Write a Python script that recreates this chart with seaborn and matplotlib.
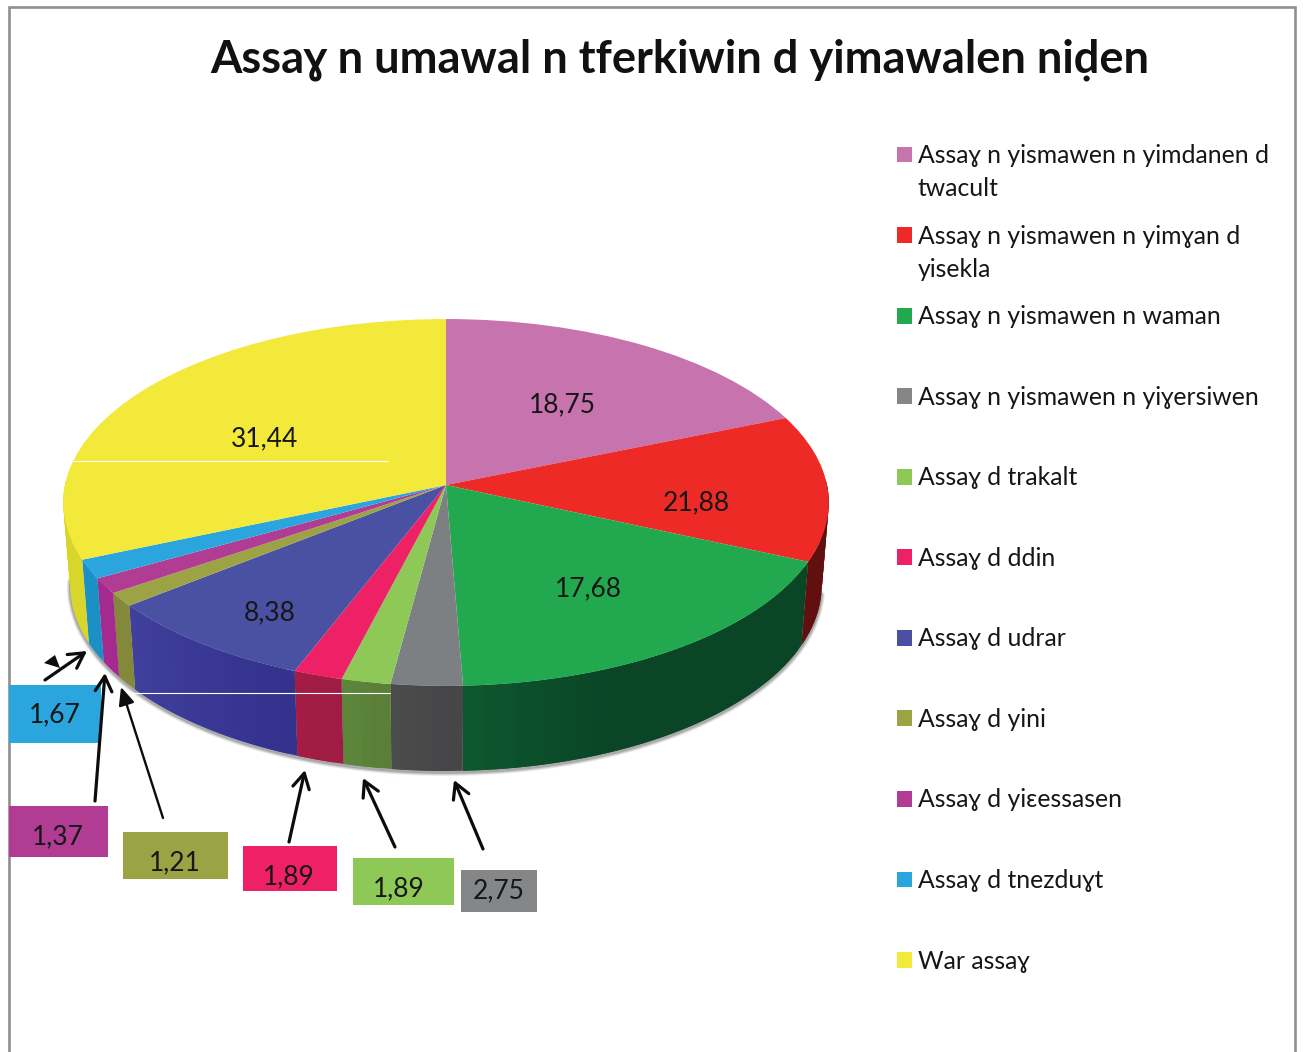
import numpy as np
import matplotlib
matplotlib.use("Agg")
import matplotlib.pyplot as plt
from matplotlib.patches import Patch, Rectangle
from matplotlib.transforms import Transform
import seaborn as sns

# ---- data ----
TITLE = "Assaɣ n umawal n tferkiwin d yimawalen niḍen"
categories = [
    "Assaɣ n yismawen n yimdanen d\ntwacult",
    "Assaɣ n yismawen n yimɣan d\nyisekla",
    "Assaɣ n yismawen n waman",
    "Assaɣ n yismawen n yiɣersiwen",
    "Assaɣ d trakalt",
    "Assaɣ d ddin",
    "Assaɣ d udrar",
    "Assaɣ d yini",
    "Assaɣ d yiɛessasen",
    "Assaɣ d tnezduɣt",
    "War assaɣ",
]
# sizes of the slices as drawn
slice_values = [18.75, 12.88, 17.68, 2.75, 1.89, 1.89, 8.38, 1.21, 1.37, 1.67, 31.44]
# numbers printed on the chart
value_labels = ["18,75", "21,88", "17,68", "2,75", "1,89", "1,89", "8,38", "1,21", "1,37", "1,67", "31,44"]
top_colors = ["#c673ae", "#ee2a27", "#22a950", "#7c8082", "#8ec857", "#ee2066",
              "#4a50a2", "#9ca345", "#b03c94", "#2ba5de", "#f3e93b"]
key_colors = ["#c673ae", "#ee2a27", "#22a950", "#848688", "#8ec857", "#ee2066",
              "#4b4fa0", "#9ca345", "#b03c94", "#2ba5de", "#f3e93b"]
wall_start = ["#620f10", "#620f10", "#0a4526", "#464648", "#5a8038", "#a01c44",
              "#33338e", "#84883a", "#a42a90", "#1a90c4", "#d8d62a"]
wall_end = ["#620f10", "#620f10", "#0e5a30", "#4c4e4c", "#5e8a3c", "#a61c44",
            "#41409e", "#84883a", "#a42a90", "#1a90c4", "#d8d62a"]

sns.set_theme(style="white")
FONTS = ["Lato", "Noto Sans", "DejaVu Sans"]
plt.rcParams["font.family"] = FONTS
TEXT = "#161616"

fig = plt.figure(figsize=(13.03, 10.52), dpi=100, facecolor="white")
ax = fig.add_axes([0, 0, 1, 1])


# perspective view of the unit disc, in pixels of the page
class DiscView(Transform):
    input_dims = 2
    output_dims = 2
    A, B, C = 181.8, 0.0954, 381.0
    CX, CY = 446.0, 485.0

    def transform_non_affine(self, values):
        v = np.asarray(values, float)
        w = 1 + self.B * v[:, 1]
        return np.column_stack((self.CX + self.C * v[:, 0] / w, self.CY - self.A * v[:, 1] / w))


view = DiscView()
palette = sns.color_palette(top_colors)
wedges, _ = ax.pie(slice_values, colors=palette, startangle=90, counterclock=False,
                   radius=1.0, wedgeprops=dict(linewidth=0))
ax.set_aspect("auto")
ax.set_xlim(0, 1303)
ax.set_ylim(1052, 0)
ax.set_axis_off()
for w in wedges:
    w.set_transform(view + ax.transData)
    w.set_zorder(3)


def rims(theta_deg):
    t = np.radians(theta_deg)
    top = view.transform_non_affine(np.column_stack((np.sin(t), np.cos(t))))
    bx = view.CX + (top[:, 0] - view.CX) * 376 / 383
    by = 585 + (top[:, 1] - 502.5) * 186 / 183.5
    return top, np.column_stack((bx, by))


def mix(c0, c1, f):
    a, b = np.array(matplotlib.colors.to_rgb(c0)), np.array(matplotlib.colors.to_rgb(c1))
    return tuple(a + (b - a) * f)


edges = np.concatenate(([0], np.cumsum(slice_values))) / np.sum(slice_values) * 360
VISIBLE_FROM, VISIBLE_TO = 88, 272
for i in range(len(slice_values)):
    a0, a1 = max(edges[i], VISIBLE_FROM), min(edges[i + 1], VISIBLE_TO)
    if a1 <= a0:
        continue
    steps = max(2, int((a1 - a0) / 1.5) + 1)
    grid = np.linspace(a0, a1, steps + 1)
    top, bot = rims(grid)
    for k in range(steps):
        # each strip runs on under the next one, so no seam shows between them
        j = min(k + 2, steps) + 1
        poly = np.vstack((top[k:j], bot[k:j][::-1]))
        f = k / steps if i != 2 else max(0, (k / steps - 0.65) / 0.35)
        ax.fill(poly[:, 0], poly[:, 1], facecolor=mix(wall_start[i], wall_end[i], f),
                edgecolor="none", lw=0, zorder=2 + 0.001 * (steps - k))

# soft shadow under the lower rim
_, shadow = rims(np.linspace(VISIBLE_FROM + 10, VISIBLE_TO - 6, 200))
for lw, alpha in ((5.0, 0.12), (3.5, 0.18), (2.0, 0.30)):
    ax.plot(shadow[:, 0], shadow[:, 1] + 1.5, color="#555555", lw=lw, alpha=alpha, zorder=1,
            solid_capstyle="round")

# stray white hairlines of the original
ax.plot([72, 388], [461, 461], color="white", lw=0.8, zorder=4)
ax.plot([130, 390], [693, 693], color="white", lw=0.8, zorder=4)

# page frame
ax.plot([9, 9, 1295, 1295], [1052, 7, 7, 1052], color="#8c908e", lw=1.9, zorder=0,
        solid_joinstyle="miter")

# title
ax.text(679.5, 60, TITLE, ha="center", va="center", fontsize=32.6, fontweight="bold",
        color="#111111", zorder=6)

# labels on the slices
on_slice = {0: (562, 405), 1: (696, 503), 2: (588, 589), 6: (270, 613), 10: (265, 439)}
for i, (x, y) in on_slice.items():
    ax.text(x, y, value_labels[i], ha="center", va="center", fontsize=19, color=TEXT, zorder=6)

# boxed labels with their arrows
boxes = {
    9: (9, 685, 101, 743),
    8: (9, 806, 108, 857),
    7: (123, 832, 228, 879),
    5: (243, 846, 337, 891),
    4: (353, 858, 454, 905),
    3: (461, 870, 537, 912),
}
box_text = {9: (55, 715), 8: (58, 837), 7: (175, 863), 5: (289, 877), 4: (399, 889), 3: (499, 891)}
for i, (x0, y0, x1, y1) in boxes.items():
    ax.add_patch(Rectangle((x0, y0), x1 - x0, y1 - y0, facecolor=key_colors[i], lw=0, zorder=5))
    ax.text(*box_text[i], value_labels[i], ha="center", va="center", fontsize=19, color=TEXT, zorder=6)

arrows = [
    ((45, 680), (87, 651), "->,head_length=0.9,head_width=0.5", 2.3),
    ((95, 801), (105, 673), "->,head_length=0.9,head_width=0.5", 2.3),
    ((163, 818), (121, 687), "-|>,head_length=0.9,head_width=0.4", 1.7),
    ((289, 842), (305, 770), "->,head_length=0.9,head_width=0.5", 2.3),
    ((395, 847), (363, 778), "->,head_length=0.9,head_width=0.5", 2.3),
    ((483, 849), (454, 780), "->,head_length=0.9,head_width=0.5", 2.3),
]
for start, end, style, width in arrows:
    ax.annotate("", xy=end, xytext=start, zorder=6,
                arrowprops=dict(arrowstyle=style, color="#0c0c0c", lw=width, shrinkA=0, shrinkB=0))
ax.fill([44, 55, 60], [663, 655, 668], color="#0c0c0c", lw=0, zorder=6)

# legend: every entry takes two text lines, the key sits on the first one
FS = 17.8
px = 72 / 100
labels = [c if "\n" in c else c + "\n " for c in categories]
handles = [Patch(facecolor=c, lw=0) for c in sns.color_palette(key_colors)]
leg = ax.legend(handles, labels, loc="upper left", bbox_to_anchor=(897, 144),
                bbox_transform=ax.transData, frameon=False, fontsize=FS, borderpad=0, borderaxespad=0,
                handlelength=15 * px / FS, handleheight=15 * px / FS, handletextpad=6 * px / FS,
                labelspacing=0.975, labelcolor=TEXT)
for t in leg.get_texts():
    t.set_linespacing(1.55)
for h in leg.legend_handles:
    h.set_y(h.get_y() + 18.5 * px)

fig.savefig("out.png", dpi=100, facecolor="white")
